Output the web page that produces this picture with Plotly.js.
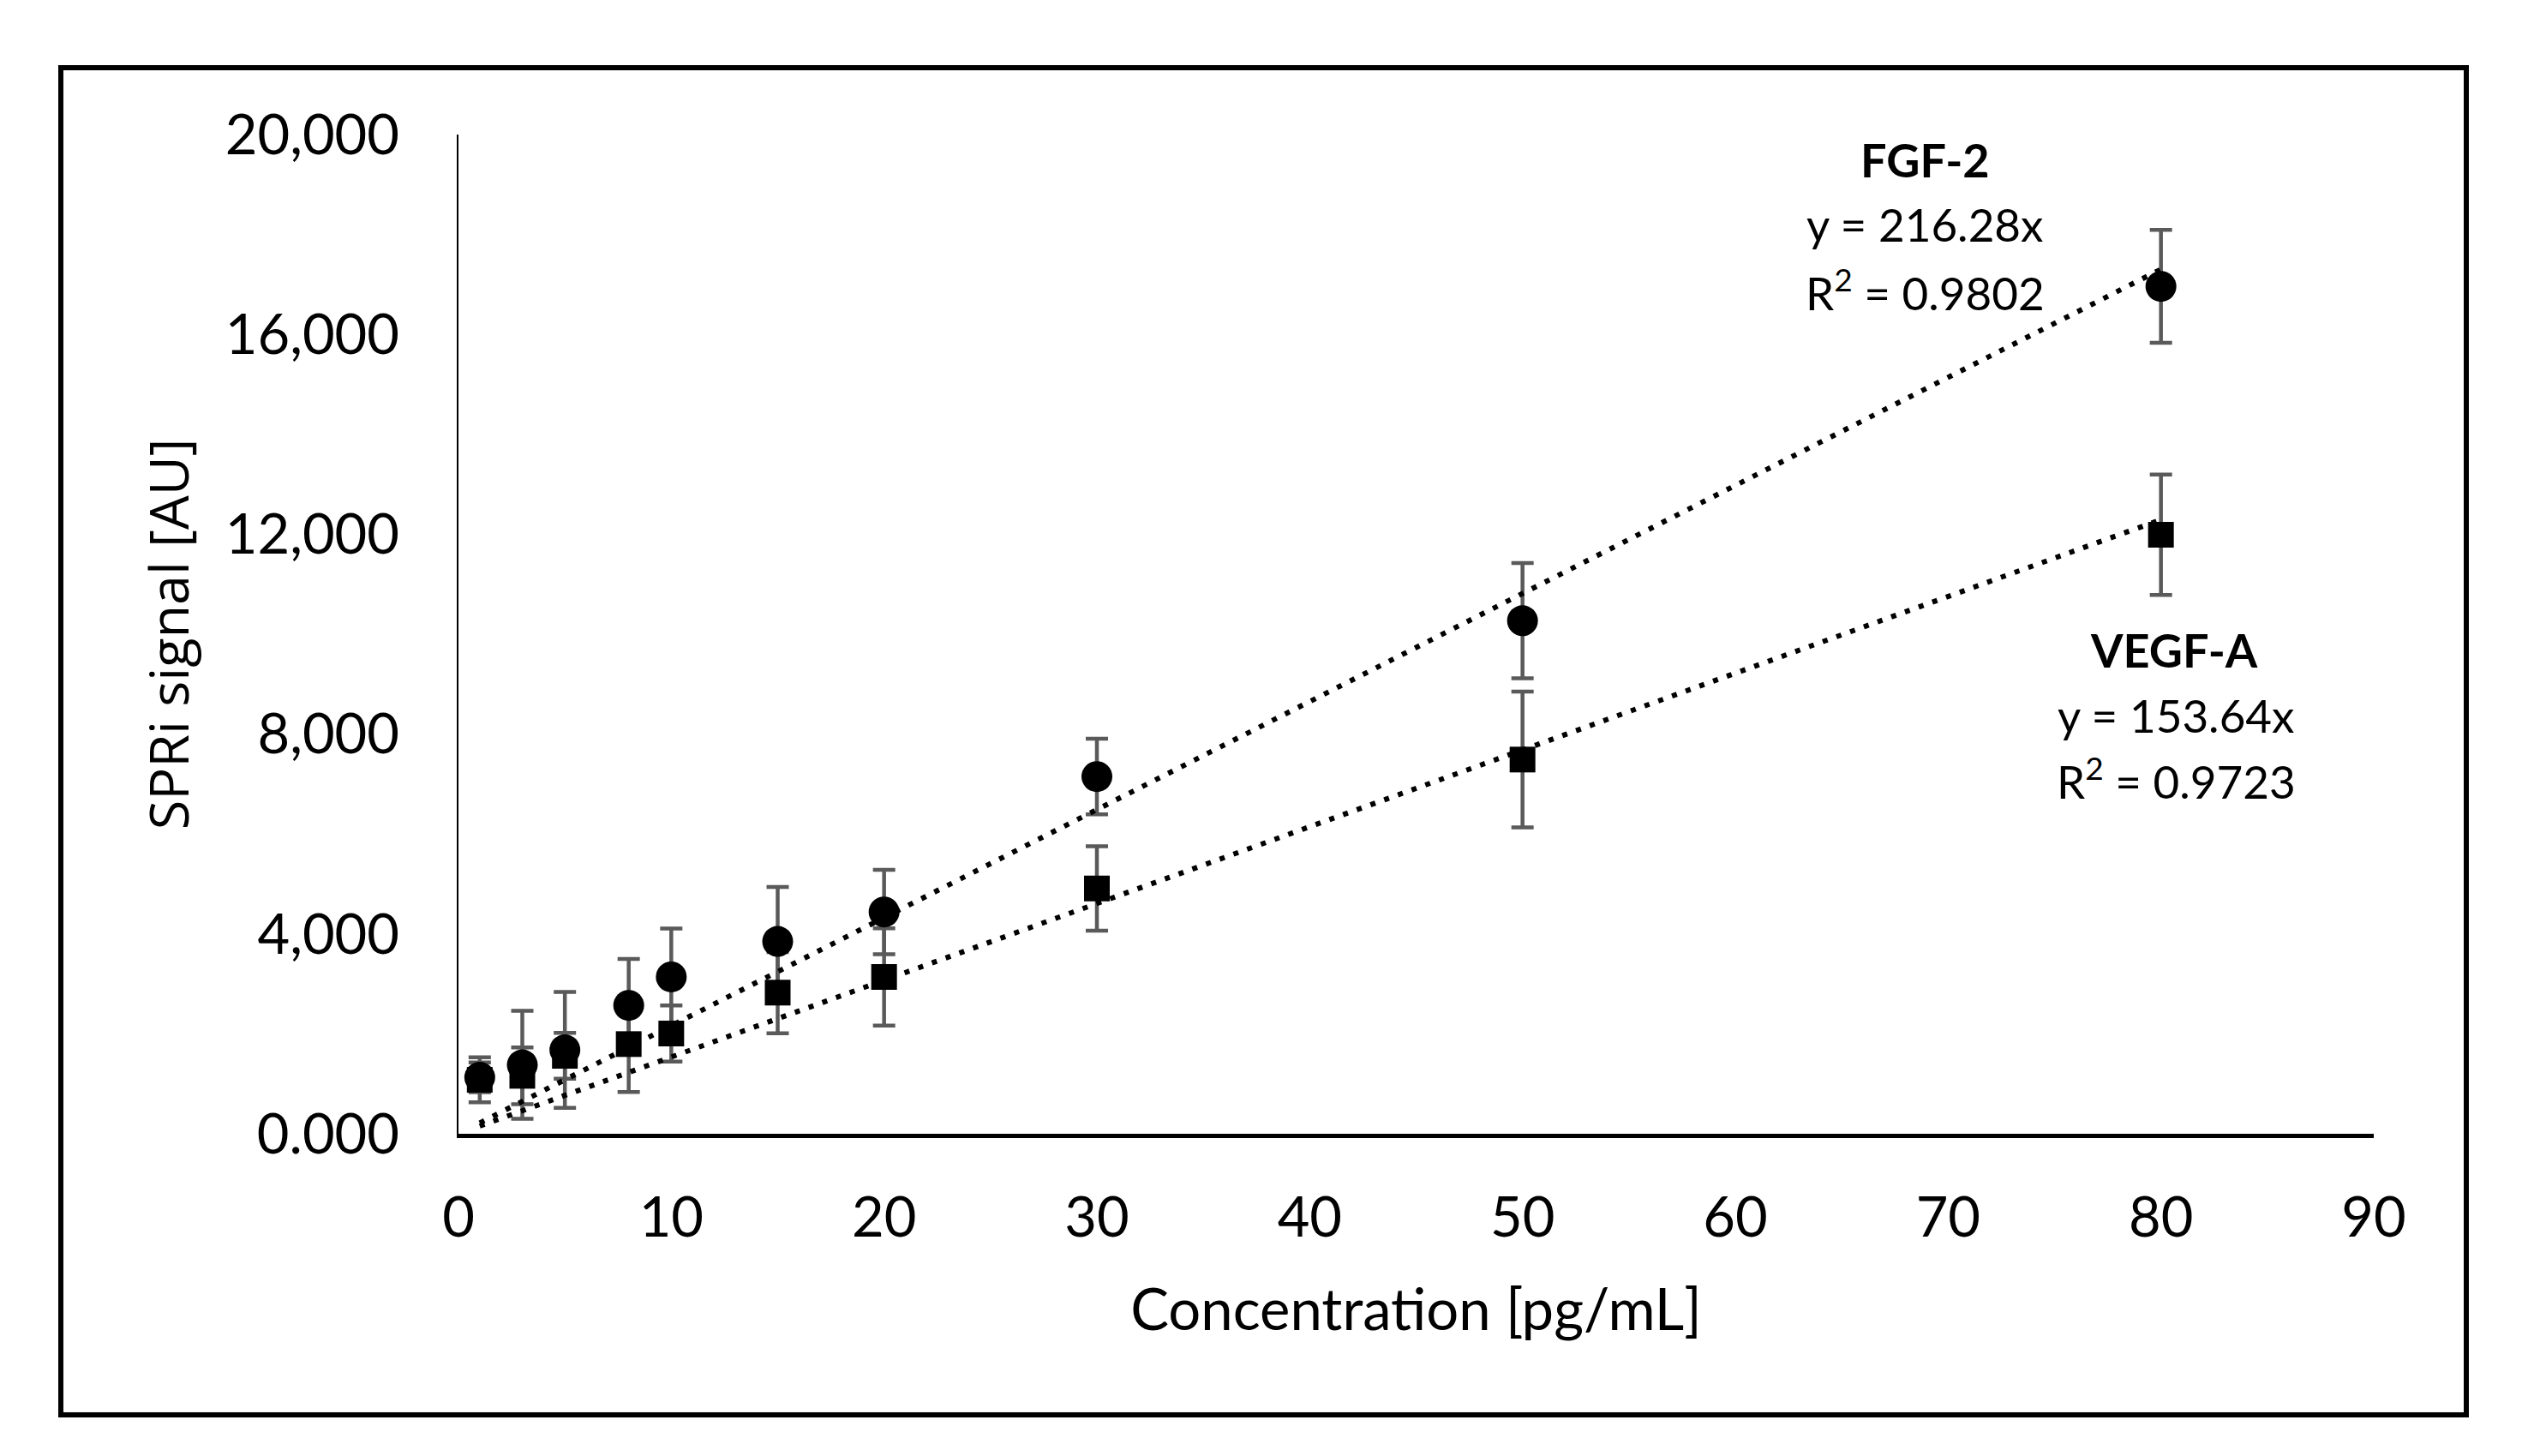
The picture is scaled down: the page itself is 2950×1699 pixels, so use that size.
<!DOCTYPE html>
<html>
<head>
<meta charset="utf-8">
<script src="https://cdn.plot.ly/plotly-3.0.1.min.js"></script>
<style>html,body{margin:0;padding:0;background:#fff}#chart{width:2950px;height:1699px}</style>
</head>
<body>
<div id="chart"></div>
<script>
// Concentrations [pg/mL]
const concentration = [1, 3, 5, 8, 10, 15, 20, 30, 50, 80];
// FGF-2 (circles)
const fgf2Signal = [1130, 1380, 1680, 2570, 3140, 3850, 4440, 7150, 10270, 16960];
const fgf2Error  = [300, 1080, 1160, 930, 970, 1090, 845, 757, 1155, 1130];
// VEGF-A (squares)
const vegfSignal = [1080, 1160, 1560, 1795, 2007, 2825, 3139, 4910, 7490, 11990];
const vegfError  = [450, 570, 460, 960, 560, 813, 972, 845, 1360, 1206];
// Trendlines (through origin), fitted slopes shown on chart
const fgf2Slope = 216.28, fgf2R2 = '0.9802';
const vegfSlope = 153.64, vegfR2 = '0.9723';
const trendX = [1, 80];
// Axis ticks
const yTickVals = [0, 4000, 8000, 12000, 16000, 20000];
const yTickText = ['0.000', '4,000', '8,000', '12,000', '16,000', '20,000'];
const xTickVals = [0, 10, 20, 30, 40, 50, 60, 70, 80, 90];

const errColor = '#5a5a5a';
const errStyle = arr => ({type: 'data', array: arr, visible: true, color: errColor, thickness: 4.5, width: 13});

const traces = [
  // error bars drawn beneath all markers
  {x: concentration, y: fgf2Signal, mode: 'markers', marker: {size: 1, opacity: 0}, error_y: errStyle(fgf2Error), hoverinfo: 'skip'},
  {x: concentration, y: vegfSignal, mode: 'markers', marker: {size: 1, opacity: 0}, error_y: errStyle(vegfError), hoverinfo: 'skip'},
  {x: concentration, y: fgf2Signal, name: 'FGF-2', mode: 'markers', marker: {symbol: 'circle', size: 36, color: '#000'}},
  {x: concentration, y: vegfSignal, name: 'VEGF-A', mode: 'markers', marker: {symbol: 'square', size: 30, color: '#000'}},
  {x: trendX, y: trendX.map(v => v * fgf2Slope), mode: 'lines', line: {color: '#000', width: 6, dash: '6px,11px'}},
  {x: trendX, y: trendX.map(v => v * vegfSlope), mode: 'lines', line: {color: '#000', width: 6, dash: '6px,11px'}}
];

const annFont = {family: 'Lato, sans-serif', size: 53, color: '#000'};
const boldFont = {family: 'Lato, sans-serif', size: 54, color: '#000', weight: 'bold'};
const ann = (x, y, text, font) => ({x, y, xref: 'x', yref: 'y', text, showarrow: false, font, xanchor: 'center', yanchor: 'middle'});

const layout = {
  width: 2950, height: 1699,
  paper_bgcolor: '#fff', plot_bgcolor: '#fff',
  showlegend: false,
  font: {family: 'Lato, sans-serif', color: '#000'},
  margin: {l: 535, r: 180, t: 157, b: 376, pad: 0},
  xaxis: {
    range: [0, 90], tickvals: xTickVals, ticks: '', showgrid: false, zeroline: false,
    showline: true, linecolor: '#000', linewidth: 5,
    tickfont: {family: 'Lato, sans-serif', size: 65, color: '#000'},
    ticklabelstandoff: 37,
    title: {text: 'Concentration [pg/mL]', font: {family: 'Lato, sans-serif', size: 67, color: '#000'}, standoff: 51},
    fixedrange: true
  },
  yaxis: {
    range: [0, 20000], tickvals: yTickVals, ticktext: yTickText, ticks: '', showgrid: false, zeroline: false,
    showline: true, linecolor: '#000', linewidth: 2,
    tickfont: {family: 'Lato, sans-serif', size: 65, color: '#000'},
    ticklabelstandoff: 54,
    title: {text: 'SPRi signal [AU]', font: {family: 'Open Sans, sans-serif', size: 63, color: '#000'}, standoff: 22},
    fixedrange: true
  },
  shapes: [{
    type: 'rect', xref: 'paper', yref: 'paper',
    x0: (71 - 535) / 2235, x1: (2878 - 535) / 2235,
    y0: (1323 - 1651) / 1166, y1: (1323 - 79) / 1166,
    line: {color: '#000', width: 6}, fillcolor: 'rgba(0,0,0,0)', layer: 'below'
  }],
  annotations: [
    ann(68.9, 19500, 'FGF-2', boldFont),
    ann(68.9, 18210, 'y = ' + fgf2Slope + 'x', annFont),
    ann(68.9, 16895, 'R<sup>2</sup> = ' + fgf2R2, annFont),
    ann(80.6, 9683, 'VEGF-A', boldFont),
    ann(80.7, 8380, 'y = ' + vegfSlope + 'x', annFont),
    ann(80.7, 7110, 'R<sup>2</sup> = ' + vegfR2, annFont)
  ]
};

Plotly.newPlot('chart', traces, layout, {staticPlot: true, displayModeBar: false});
</script>
</body>
</html>
